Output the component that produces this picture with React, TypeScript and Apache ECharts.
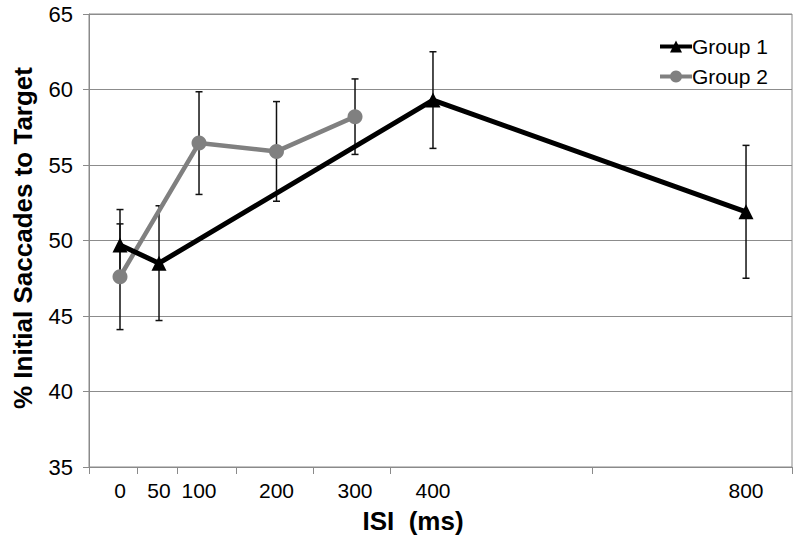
import React, { useEffect, useRef } from "react";
import * as echarts from "echarts";

// ISI categories (ms) and where each sits on the chart's non-uniform x scale (0–100 axis units)
const isiLabels = ["0", "50", "100", "200", "300", "400", "800"];
const isiAxisPos = [4.41, 9.96, 15.65, 26.67, 37.84, 48.93, 93.46];
const xTickPos = [0, 6.83, 12.52, 20.91, 31.86, 42.82, 71.55, 100];

const yTicks = [35, 40, 45, 50, 55, 60, 65];

const group1Isi = ["0", "50", "400", "800"];
const group1Mean = [49.7, 48.5, 59.3, 51.9];
const group1Err = [2.35, 3.8, 3.2, 4.4];

const group2Isi = ["0", "100", "200", "300"];
const group2Mean = [47.6, 56.45, 55.9, 58.2];
const group2Err = [3.5, 3.4, 3.3, 2.5];

const FONT = "'Liberation Sans', Arial, sans-serif";

function posOf(isi: string): number {
  return isiAxisPos[isiLabels.indexOf(isi)];
}

export default function App() {
  const ref = useRef<HTMLDivElement>(null);

  useEffect(() => {
    if (!ref.current) return;
    const chart = echarts.init(ref.current, undefined, { renderer: "svg" });

    const g1 = group1Isi.map((k, i) => [posOf(k), group1Mean[i]]);
    const g2 = group2Isi.map((k, i) => [posOf(k), group2Mean[i]]);
    const errData = [
      ...group1Isi.map((k, i) => [posOf(k), group1Mean[i] - group1Err[i], group1Mean[i] + group1Err[i]]),
      ...group2Isi.map((k, i) => [posOf(k), group2Mean[i] - group2Err[i], group2Mean[i] + group2Err[i]]),
    ];

    const option: any = {
      animation: false,
      backgroundColor: "#ffffff",
      textStyle: { fontFamily: FONT },
      grid: {
        left: 89,
        right: 8,
        top: 14,
        bottom: 76,
        show: true,
        borderColor: "#8a8a8a",
        borderWidth: 1,
        backgroundColor: "transparent",
      },
      xAxis: {
        type: "value",
        min: 0,
        max: 100,
        splitLine: { show: false },
        axisLine: { show: true, lineStyle: { color: "#8a8a8a", width: 1 } },
        axisTick: {
          show: true,
          length: 7,
          lineStyle: { color: "#8a8a8a" },
          customValues: xTickPos,
        },
        axisLabel: {
          show: true,
          customValues: isiAxisPos,
          formatter: (v: number) => {
            let best = 0;
            for (let i = 0; i < isiAxisPos.length; i++) {
              if (Math.abs(isiAxisPos[i] - v) < Math.abs(isiAxisPos[best] - v)) best = i;
            }
            return isiLabels[best];
          },
          color: "#000",
          fontSize: 21,
          fontFamily: FONT,
          margin: 13,
        },
      },
      yAxis: {
        type: "value",
        min: 35,
        max: 65,
        interval: 5,
        axisLine: { show: true, lineStyle: { color: "#8a8a8a", width: 1 } },
        axisTick: { show: true, inside: false, length: 6, lineStyle: { color: "#8a8a8a" } },
        splitLine: { show: true, lineStyle: { color: "#8c8c8c", width: 1 } },
        axisLabel: {
          color: "#000",
          fontSize: 22,
          fontFamily: FONT,
          margin: 16,
          formatter: (v: number) => (yTicks.includes(v) ? String(v) : ""),
        },
      },
      legend: {
        orient: "vertical",
        left: 653,
        top: 31,
        itemGap: 9,
        itemWidth: 32,
        itemHeight: 15,
        data: ["Group 1", "Group 2"],
        lineStyle: { width: 4 },
        textStyle: { fontSize: 21, color: "#000", fontFamily: FONT, padding: [0, 0, 0, -5] },
      },
      series: [
        {
          type: "custom",
          name: "err",
          z: 1,
          data: errData,
          renderItem: (params: any, api: any) => {
            const x = api.value(0);
            const lo = api.coord([x, api.value(1)]);
            const hi = api.coord([x, api.value(2)]);
            const half = 3.5;
            const style = { stroke: "#111", lineWidth: 1.5 };
            return {
              type: "group",
              children: [
                { type: "line", shape: { x1: lo[0], y1: lo[1], x2: hi[0], y2: hi[1] }, style },
                { type: "line", shape: { x1: lo[0] - half, y1: lo[1], x2: lo[0] + half, y2: lo[1] }, style },
                { type: "line", shape: { x1: hi[0] - half, y1: hi[1], x2: hi[0] + half, y2: hi[1] }, style },
              ],
            };
          },
        },
        {
          type: "line",
          name: "Group 1",
          z: 3,
          data: g1,
          symbol: "triangle",
          symbolSize: 15,
          lineStyle: { color: "#000", width: 5 },
          itemStyle: { color: "#000" },
        },
        {
          type: "line",
          name: "Group 2",
          z: 2,
          data: g2,
          symbol: "circle",
          symbolSize: 15,
          lineStyle: { color: "#808080", width: 4.5 },
          itemStyle: { color: "#808080" },
        },
      ],
      graphic: [
        {
          type: "text",
          x: 23,
          y: 238,
          rotation: Math.PI / 2,
          style: {
            text: "% Initial Saccades to Target",
            fill: "#000",
            font: `bold 26px ${FONT}`,
            textAlign: "center",
            textVerticalAlign: "middle",
          },
        },
        {
          type: "text",
          x: 413,
          y: 521,
          style: {
            text: "ISI  (ms)",
            fill: "#000",
            font: `bold 26px ${FONT}`,
            textAlign: "center",
            textVerticalAlign: "middle",
          },
        },
      ],
    };

    chart.setOption(option);
    return () => chart.dispose();
  }, []);

  return (
    <div
      ref={ref}
      style={{ position: "absolute", left: 0, top: 0, width: 800, height: 543, background: "#fff" }}
    />
  );
}
